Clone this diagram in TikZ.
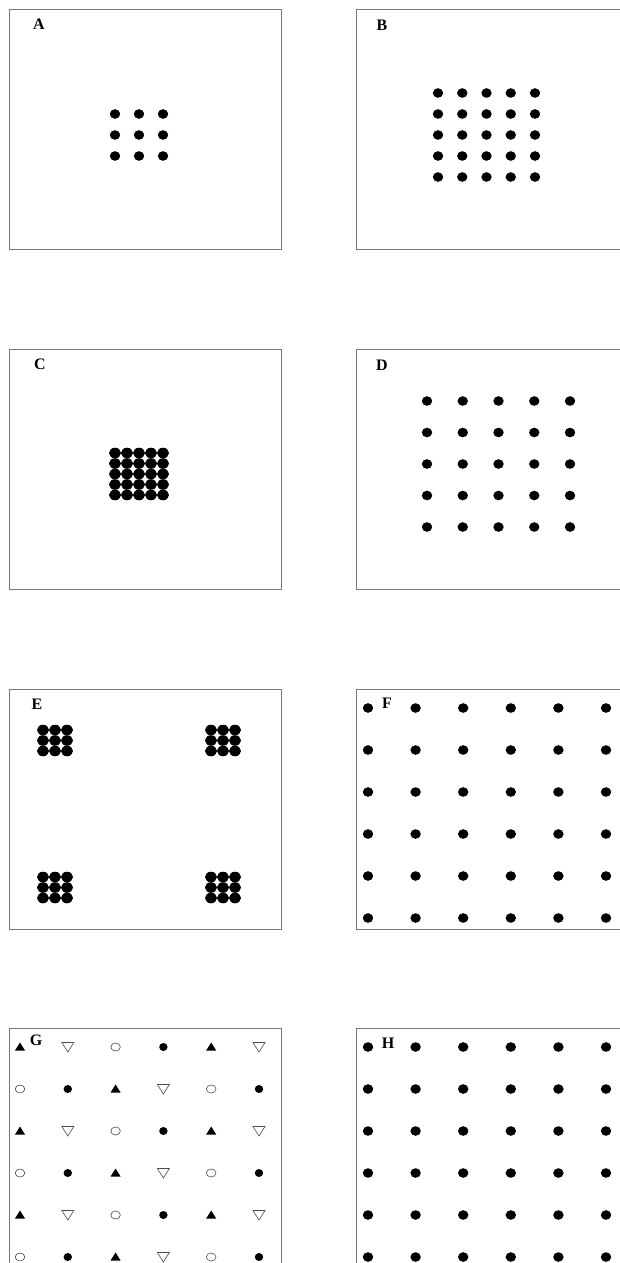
\documentclass[tikz,border=0pt]{standalone}
\usepackage{fontspec}
\setmainfont{Liberation Serif}
\definecolor{FrameClr}{rgb}{0.47,0.47,0.47}
\definecolor{MarkClr}{rgb}{0.30,0.30,0.30}

\begin{document}
\begin{tikzpicture}[x=1pt,y=-1pt,
  frame/.style={draw=FrameClr,line width=0.9pt},
  lbl/.style={font=\fontsize{16}{16}\selectfont\bfseries,inner sep=0pt},
  bigdot/.style={fill=black},
  uptri/.pic={\fill (-5,3.5) -- (5,3.5) -- (0,-4.5) -- cycle;},
  downtri/.pic={\draw[MarkClr,line width=0.6pt] (-6,-4.5) -- (6,-4.5) -- (0,5) -- cycle;},
  ring/.pic={\draw[MarkClr,line width=0.6pt] (0,0) ellipse [x radius=4.8pt,y radius=4pt];},
  smalldot/.pic={\fill (0,0) ellipse [x radius=4.2pt,y radius=4pt];}]
\clip (0,0) rectangle (620,1263);
\fill[white] (0,0) rectangle (620,1263);

% frames
\foreach \top in {9,349,689,1028}{
  \draw[frame] (9,\top) rectangle (281,\top+240);
  \draw[frame] (356,\top) rectangle (628,\top+240);
}

% A
\foreach \i in {0,1,2}
  \foreach \j in {0,1,2}
    \fill[bigdot] (115+24*\i,114+21*\j) ellipse [x radius=5.2pt,y radius=4.8pt];
\node[lbl] (labA) at (39,24) {A};

% B
\foreach \i in {0,...,4}
  \foreach \j in {0,...,4}
    \fill[bigdot] (438+24.25*\i,93+21*\j) ellipse [x radius=5.2pt,y radius=4.8pt];
\node[lbl] (labB) at (382,25) {B};

% C
\foreach \i in {0,...,4}
  \foreach \j in {0,...,4}
    \fill[bigdot] (115+12*\i,453+10.5*\j) ellipse [x radius=6pt,y radius=5.3pt];
\node[lbl] (labC) at (40,364) {C};

% D
\foreach \i in {0,...,4}
  \foreach \j in {0,...,4}
    \fill[bigdot] (427+35.75*\i,401+31.5*\j) ellipse [x radius=5.2pt,y radius=4.8pt];
\node[lbl] (labD) at (382,365) {D};

% E
\foreach \cx in {43,211}
  \foreach \cy in {730,877}
    \foreach \i in {0,1,2}
      \foreach \j in {0,1,2}
        \fill[bigdot] (\cx+12*\i,\cy+10.5*\j) ellipse [x radius=6pt,y radius=5.3pt];
\node[lbl] (labE) at (37,704) {E};

% F
\foreach \i in {0,...,5}
  \foreach \j in {0,...,5}
    \fill[bigdot] (368+47.6*\i,708+42*\j) ellipse [x radius=5.2pt,y radius=4.8pt];
\node[lbl] (labF) at (387,703) {F};

% G
\foreach \i in {0,...,5}
  \foreach \j in {0,...,5}{
    \pgfmathtruncatemacro{\k}{mod(\i+2*mod(\j,2),4)}
    \ifcase\k
      \pic at (20+47.8*\i,1047+42*\j) {uptri};
    \or
      \pic at (20+47.8*\i,1047+42*\j) {downtri};
    \or
      \pic at (20+47.8*\i,1047+42*\j) {ring};
    \or
      \pic at (20+47.8*\i,1047+42*\j) {smalldot};
    \fi
  }
\node[lbl] (labG) at (36,1040) {G};

% H
\foreach \i in {0,...,5}
  \foreach \j in {0,...,5}
    \fill[bigdot] (368+47.6*\i,1047+42*\j) ellipse [x radius=5.2pt,y radius=4.8pt];
\node[lbl] (labH) at (388,1043) {H};

\end{tikzpicture}
\end{document}
